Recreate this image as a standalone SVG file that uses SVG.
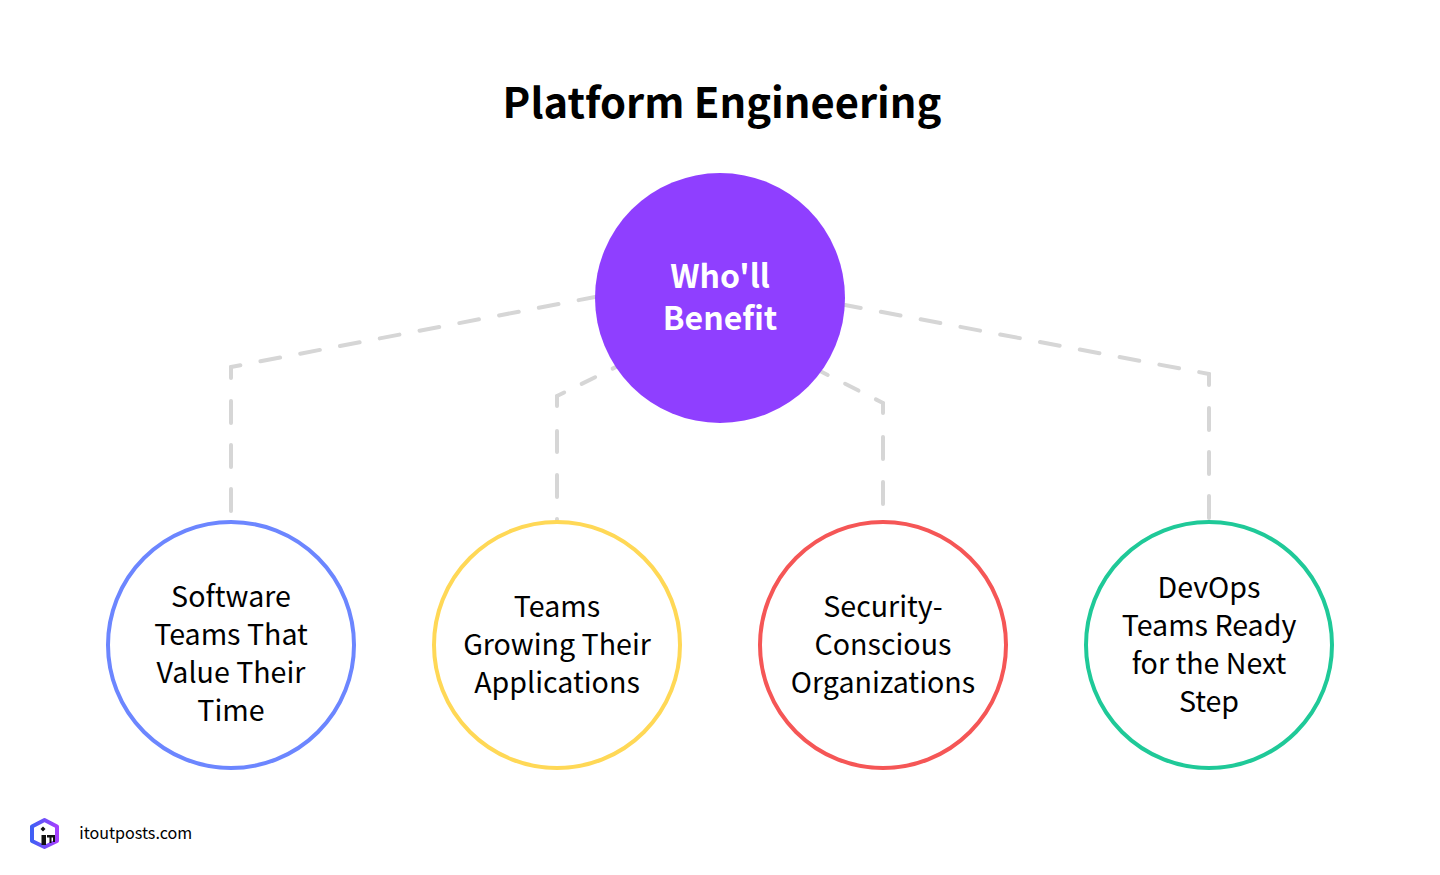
<svg xmlns="http://www.w3.org/2000/svg" width="1440" height="875" viewBox="0 0 1440 875">
<style>
text{font-family:"Noto Sans CJK SC","Noto Sans",sans-serif;text-anchor:middle;fill:#000}
.c{fill:#fff;stroke-width:4}
.l{font-size:28.600px}
.w{font-size:32px;font-weight:700;fill:#fff}
.d{fill:none;stroke:#d6d6d6;stroke-width:4;stroke-linecap:round}
.a{stroke-dasharray:20 20.5}
.b{stroke-dasharray:15 19.5;stroke-dashoffset:7}
.v{stroke-dasharray:11 23 22 22 22 22 22 99}
</style>
<defs><linearGradient id="lg" x1="0" y1="0" x2="1" y2="0"><stop offset="0" stop-color="#3f5ff5"/><stop offset="1" stop-color="#a53fff"/></linearGradient></defs>
<rect width="1440" height="875" fill="#fff"/>
<text x="722" y="118" font-size="41.700" font-weight="700">Platform Engineering</text>
<g id="connectors">
<path class="d a" stroke-dashoffset="10.500" d="M231 367L595 297"/>
<path class="d v" d="M231 367V513"/>
<path class="d b" d="M557 396L620 365"/>
<path class="d" stroke-dasharray="10 25 21 23 22 22 2 99" d="M557 396V521"/>
<path class="d b" d="M883 403L820 371"/>
<path class="d" stroke-dasharray="10 24 22 23 22 99" d="M883 403V521"/>
<path class="d a" stroke-dashoffset="10" d="M1209 374L845 305"/>
<path class="d v" d="M1209 374V521"/>
</g>
<g id="center"><circle cx="720" cy="298" r="125" fill="#8f3fff"/>
<text class="w" x="720" y="288">Who'll</text>
<text class="w" x="720" y="330">Benefit</text></g>
<g id="n1"><circle class="c" cx="231" cy="645" r="123" stroke="#6c86ff"/>
<text class="l" x="231" y="607">Software</text><text class="l" x="231" y="645">Teams That</text><text class="l" x="231" y="683">Value Their</text><text class="l" x="231" y="721">Time</text></g>
<g id="n2"><circle class="c" cx="557" cy="645" r="123" stroke="#ffd856"/>
<text class="l" x="557" y="617">Teams</text><text class="l" x="557" y="655">Growing Their</text><text class="l" x="557" y="693">Applications</text></g>
<g id="n3"><circle class="c" cx="883" cy="645" r="123" stroke="#f55656"/>
<text class="l" x="883" y="617">Security-</text><text class="l" x="883" y="655">Conscious</text><text class="l" x="883" y="693">Organizations</text></g>
<g id="n4"><circle class="c" cx="1209" cy="645" r="123" stroke="#1fc998"/>
<text class="l" x="1209" y="598">DevOps</text><text class="l" x="1209" y="636">Teams Ready</text><text class="l" x="1209" y="674">for the Next</text><text class="l" x="1209" y="712">Step</text></g>
<g id="logo"><path d="M44.500 820L57 826.500V841L44.500 847L32 841V826.500Z" fill="#fff" stroke="url(#lg)" stroke-width="4" stroke-linejoin="round"/>
<path d="M43 826.500L45.500 829L43 831.500L40.500 829Z" fill="#111"/><path d="M41.500 835H46V845H41.500ZM47 835H55V842H53V837.500H51.500V843H49.500V837.500H47Z" fill="#111"/></g>
<text x="135.700" y="839" font-size="16.100">itoutposts.com</text>
</svg>
